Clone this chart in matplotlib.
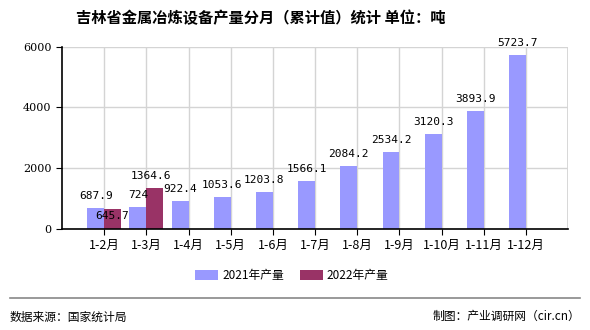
import matplotlib.pyplot as plt
import numpy as np

plt.rcParams['font.family'] = ['Noto Sans CJK SC', 'DejaVu Sans']

months = ['1-2月', '1-3月', '1-4月', '1-5月', '1-6月', '1-7月', '1-8月',
          '1-9月', '1-10月', '1-11月', '1-12月']
vals_2021 = [687.9, 724, 922.4, 1053.6, 1203.8, 1566.1, 2084.2, 2534.2,
             3120.3, 3893.9, 5723.7]
vals_2022 = [645.7, 1364.6]
labels_2021 = ['687.9', '724', '922.4', '1053.6', '1203.8', '1566.1', '2084.2',
               '2534.2', '3120.3', '3893.9', '5723.7']
labels_2022 = ['645.7', '1364.6']

c2021 = '#9999ff'
c2022 = '#993366'

fig = plt.figure(figsize=(5.9, 3.3), dpi=100)
ax = fig.add_axes([0.105, 0.306, 0.858, 0.553])

x = np.arange(len(months))
w = 0.4
ax.bar(x - w / 2, vals_2021, w, color=c2021, label='2021年产量', zorder=2)
x22 = x[:len(vals_2022)]
ax.bar(x22 + w / 2, vals_2022, w, color=c2022, label='2022年产量', zorder=2)

num_font = dict(family='DejaVu Sans Mono', fontsize=8)
for xi, v, s in zip(x, vals_2021, labels_2021):
    ax.annotate(s, (xi - w / 2, v), xytext=(0, 5), textcoords='offset points',
                ha='center', va='bottom', zorder=3, **num_font)
# 2022 labels: first one sits on the bar top, second above it
ax.annotate(labels_2022[0], (x22[0] + w / 2, vals_2022[0]), xytext=(0, -5),
            textcoords='offset points', ha='center', va='center', zorder=3, **num_font)
ax.annotate(labels_2022[1], (x22[1] + w / 2, vals_2022[1]), xytext=(-3, 5),
            textcoords='offset points', ha='center', va='bottom', zorder=3, **num_font)

ax.set_xlim(-1, len(months))
ax.set_ylim(0, 6000)
ax.set_yticks([0, 2000, 4000, 6000])
ax.set_xticks(x)
ax.set_xticklabels(months, fontsize=9)
ax.tick_params(axis='y', labelsize=8, length=4)
ax.tick_params(axis='x', length=4, pad=3)
for lab in ax.get_yticklabels():
    lab.set_family('DejaVu Serif')

ax.grid(True, color='#d4d4d4', linewidth=1, zorder=0)
ax.axvline(len(months), color='#d4d4d4', linewidth=2, zorder=0)
ax.spines['top'].set_visible(False)
ax.spines['right'].set_visible(False)
ax.spines['left'].set_linewidth(1.2)
ax.spines['bottom'].set_linewidth(1.2)

fig.text(0.442, 0.945, '吉林省金属冶炼设备产量分月（累计值）统计 单位：吨',
         ha='center', va='center', fontsize=11, fontweight='bold')

fig.legend(loc='center', bbox_to_anchor=(0.495, 0.165), ncol=2, frameon=False,
           fontsize=8.5, handlelength=1.9, handleheight=0.9, handletextpad=0.35,
           columnspacing=1.4)

fig.add_artist(plt.Line2D([0.017, 0.983], [0.097, 0.097], color='#888888',
                          linewidth=1.2, transform=fig.transFigure))
fig.text(0.017, 0.04, '数据来源：国家统计局', ha='left', va='center', fontsize=8.5)
fig.text(0.983, 0.04, '制图：产业调研网（cir.cn）', ha='right', va='center', fontsize=8.5)

fig.savefig('out.png', dpi=100)
